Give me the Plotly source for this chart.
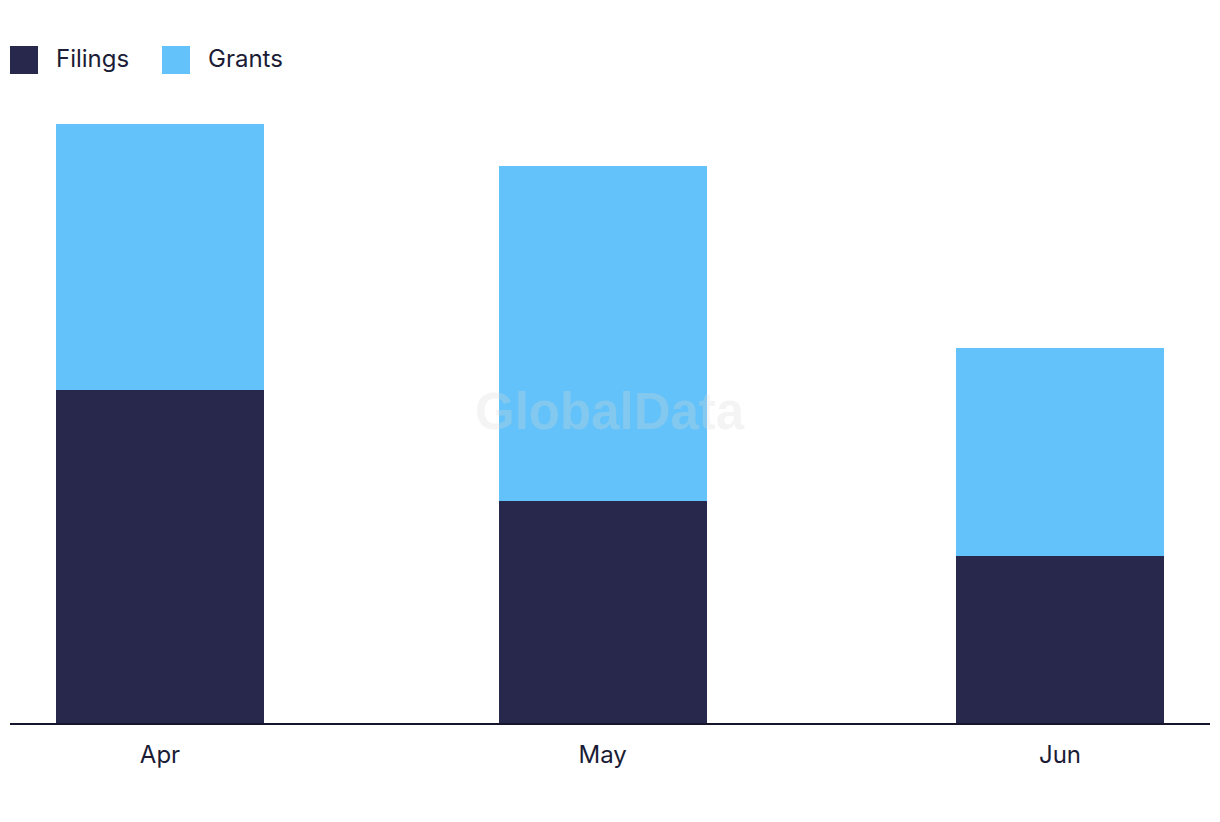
import plotly.graph_objects as go

months = ["2024-04-01", "2024-05-01", "2024-06-01"]
month_labels = ["Apr", "May", "Jun"]
filings = [30, 20, 15]
grants = [23.9, 30.2, 18.8]

NAVY = "#27284B"
BLUE = "#62C2F9"
TEXT = "#1B1C36"
DAY = 86400000
bar_w = 14.1 * DAY

fig = go.Figure()
fig.add_trace(go.Bar(x=months, y=filings, name="Filings", marker_color=NAVY,
                     width=[bar_w] * 3, marker_line_width=0))
fig.add_trace(go.Bar(x=months, y=grants, name="Grants", marker_color=BLUE,
                     width=[bar_w] * 3, marker_line_width=0))

# page has an 8px body margin; figure sized to fit the 1220x822 window
OFF = 8
W, H = 1220 - 2 * OFF, 822 - 2 * OFF
# plot area in page coordinates
PL, PR, PT, PB = 10, 1210, 100, 723
L, R, T, B = PL - OFF, (W + OFF) - PR, PT - OFF, (H + OFF) - PB
pw, ph = PR - PL, PB - PT

def px_x(x):
    return (x - PL) / pw

def px_y(y):
    return (PB - y) / ph

shapes = []
annotations = []
legend_items = [("Filings", NAVY, 10, 54), ("Grants", BLUE, 162, 206)]
for name, col, sx, tx in legend_items:
    shapes.append(dict(type="rect", xref="paper", yref="paper",
                       x0=px_x(sx), x1=px_x(sx + 28), y0=px_y(74), y1=px_y(46),
                       fillcolor=col, line_width=0))
    annotations.append(dict(text=name, xref="paper", yref="paper",
                            x=px_x(tx), y=px_y(58), xanchor="left", yanchor="middle",
                            showarrow=False, font=dict(size=24, color=TEXT, family="Inter")))

annotations.append(dict(text="<b>GlobalData</b>", xref="paper", yref="paper",
                        x=0.5, y=0.5, xanchor="center", yanchor="middle",
                        showarrow=False,
                        font=dict(size=51, color="rgba(215,215,215,0.28)",
                                  family="Liberation Sans")))

fig.update_layout(
    width=W, height=H,
    margin=dict(l=L, r=R, t=T, b=B),
    barmode="stack",
    showlegend=False,
    plot_bgcolor="white", paper_bgcolor="white",
    shapes=shapes, annotations=annotations,
    font=dict(family="Inter", color=TEXT),
    xaxis=dict(type="date",
               range=["2024-03-21 20:00", "2024-06-11 04:00"],
               tickvals=months, ticktext=month_labels,
               tickfont=dict(size=24, color=TEXT, family="Inter"),
               ticklabelstandoff=9,
               showgrid=False, zeroline=False,
               showline=True, linecolor="#15162B", linewidth=2,
               ticks="", ticklen=0),
    yaxis=dict(range=[0, 56.1], visible=False, showgrid=False, zeroline=False),
)

fig.write_html("out.html")
